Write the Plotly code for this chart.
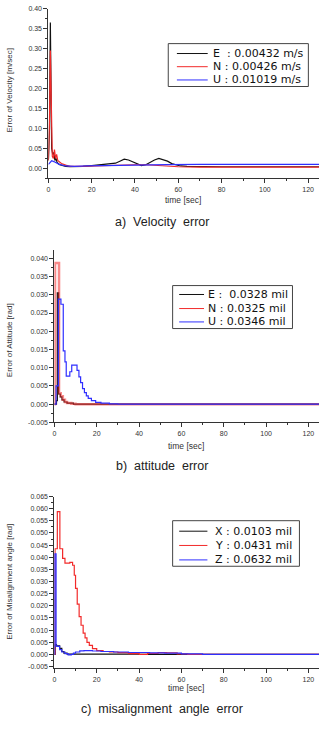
import plotly.graph_objects as go

# ---------------- data ----------------
# a) Velocity error
vel_t_E = [0, 0.5, 0.9, 1.2, 1.5, 2.0, 2.5, 3.0, 3.5, 4, 5, 6, 8, 10, 13, 16, 20, 23, 26, 29, 31, 33, 35, 37, 39, 41, 43, 45, 47, 49, 51, 53, 55, 57, 59, 61, 64, 70, 80, 100, 125]
vel_E = [0.02, 0.1, 0.366, 0.2, 0.05, 0.035, 0.04, 0.02, 0.025, 0.015, 0.01, 0.008, 0.005, 0.004, 0.004, 0.005, 0.007, 0.009, 0.011, 0.012, 0.013, 0.018, 0.023, 0.021, 0.016, 0.01, 0.007, 0.009, 0.016, 0.021, 0.025, 0.022, 0.018, 0.012, 0.008, 0.006, 0.005, 0.004, 0.004, 0.004, 0.004]
vel_t_N = [0, 0.5, 0.9, 1.3, 1.8, 2.3, 2.8, 3.3, 3.8, 4.3, 5, 6, 8, 10, 15, 20, 25, 30, 40, 45, 50, 55, 60, 70, 80, 100, 125]
vel_N = [0.02, 0.12, 0.296, 0.15, 0.03, 0.025, 0.047, 0.025, 0.035, 0.02, 0.016, 0.012, 0.008, 0.005, 0.005, 0.006, 0.007, 0.008, 0.009, 0.009, 0.007, 0.005, 0.004, 0.003, 0.003, 0.003, 0.003]
vel_t_U = [0, 0.8, 1.5, 2.5, 3.5, 5, 8, 12, 18, 25, 35, 45, 55, 70, 100, 125]
vel_U = [0.01, 0.015, 0.019, 0.017, 0.014, 0.01, 0.006, 0.005, 0.006, 0.007, 0.008, 0.009, 0.0095, 0.0098, 0.0098, 0.0098]

# b) attitude error
att_t_E = [0, 1.0, 1.4, 2.0, 2.8, 3.6, 4.6, 6.0, 9.0, 125]
att_E = [0, 0.001, 0.0305, 0.0028, 0.002, 0.0012, 0.0006, 0.0003, 0, 0]
att_t_N = [0, 0.3, 2.2, 3.0, 4.0, 5.0, 6.0, 8.0, 10.0, 125]
att_N = [0, 0.0387, 0.003, 0.0022, 0.0012, 0.0006, 0.0003, 0.0001, 0, 0]
att_t_U = [0, 0.8, 1.9, 3.1, 4.2, 5.0, 5.6, 7.3, 8.2, 10.7, 11.6, 12.4, 13.3, 14.2, 15.1, 16.0, 17.5, 19.5, 22, 26, 30, 125]
att_U = [0, 0.005, 0.0288, 0.0274, 0.0146, 0.0116, 0.0077, 0.0089, 0.0107, 0.0093, 0.0075, 0.0059, 0.0043, 0.0032, 0.0023, 0.0016, 0.001, 0.0005, 0.0003, 0.0001, 0, 0]

# c) misalignment angle error
mis_t_X = [0, 0.4, 1.0, 2.5, 3.5, 4.5, 6.0, 10, 20, 40, 125]
mis_X = [0, 0.004, 0.0035, 0.0025, 0.0012, 0.0005, 0.0001, 0.0001, 0.0001, 0.0, 0.0]
mis_t_Y = [0, 0.3, 1.4, 2.6, 3.9, 5.0, 7.3, 8.6, 9.4, 10.0, 10.8, 11.7, 12.6, 13.6, 14.5, 15.4, 16.5, 18, 20, 23, 26, 30, 35, 40, 44, 49, 53, 58, 63, 125]
mis_Y = [0, 0.0435, 0.0588, 0.0435, 0.0395, 0.0376, 0.0379, 0.0367, 0.0326, 0.0272, 0.0207, 0.0156, 0.012, 0.0088, 0.0068, 0.005, 0.0037, 0.0024, 0.0016, 0.0012, 0.001, 0.0007, 0.0003, 0.0, 0.0004, 0.0007, 0.0006, 0.0002, 0, 0]
mis_t_Z = [0, 0.15, 0.8, 1.5, 2.5, 3.5, 5, 6.5, 8, 9, 10, 12, 14, 18, 22, 28, 35, 45, 52, 60, 70, 125]
mis_Z = [0, 0.0414, 0.0034, 0.0033, 0.002, 0.001, 0.0003, -0.0002, 0.0, 0.0005, 0.001, 0.0015, 0.0016, 0.0014, 0.0012, 0.001, 0.0008, 0.0006, 0.0005, 0.0002, 0, 0]

legend_vel = ["E\u00a0\u00a0: 0.00432 m/s", "N : 0.00426 m/s", "U : 0.01019 m/s"]
legend_att = ["E :\u00a0\u00a00.0328 mil", "N : 0.0325 mil", "U : 0.0346 mil"]
legend_mis = ["X : 0.0103 mil", "Y : 0.0431 mil", "Z : 0.0632 mil"]

x_ticks = [0, 20, 40, 60, 80, 100, 120]
x_ticktext = ["0", "20", "40", "60", "80", "100", "120"]
vel_yticks = [0.0, 0.05, 0.10, 0.15, 0.20, 0.25, 0.30, 0.35, 0.40]
vel_yticktext = ["0.00", "0.05", "0.10", "0.15", "0.20", "0.25", "0.30", "0.35", "0.40"]
att_yticks = [-0.005, 0.0, 0.005, 0.010, 0.015, 0.020, 0.025, 0.030, 0.035, 0.040]
att_yticktext = ["-0.005", "0.000", "0.005", "0.010", "0.015", "0.020", "0.025", "0.030", "0.035", "0.040"]
mis_yticks = [-0.005, 0.0, 0.005, 0.010, 0.015, 0.020, 0.025, 0.030, 0.035, 0.040, 0.045, 0.050, 0.055, 0.060, 0.065]
mis_yticktext = ["-0.005", "0.000", "0.005", "0.010", "0.015", "0.020", "0.025", "0.030", "0.035", "0.040", "0.045", "0.050", "0.055", "0.060", "0.065"]

captions = ["a)\u00a0\u00a0Velocity\u00a0\u00a0error", "b)\u00a0\u00a0attitude\u00a0\u00a0error", "c)\u00a0\u00a0misalignment\u00a0\u00a0angle\u00a0\u00a0error"]
ytitles = ["Error of Velocity [m/sec]", "Error of Attitude [rad]", "Error of Misalignment angle [rad]"]
xtitle = "time [sec]"

# ---------------- figure ----------------
W, H = 320, 730
BLACK = "#111111"
RED = "#f22a2a"
BLUE = "#2f2fff"
COLORS = [BLACK, RED, BLUE]
FONT = "Liberation Sans"
AX = "#333333"

fig = go.Figure()

def add(x, y, name, color, xa, ya, width=1.0, shape="linear", opacity=1.0):
    fig.add_trace(go.Scatter(x=x, y=y, name=name, mode="lines",
                             line=dict(color=color, width=width, shape=shape),
                             opacity=opacity, xaxis=xa, yaxis=ya, showlegend=False))

# plot 1
add(vel_t_E, vel_E, legend_vel[0], BLACK, "x", "y", 1.2)
add(vel_t_N, vel_N, legend_vel[1], RED, "x", "y", 1.2)
add(vel_t_U, vel_U, legend_vel[2], BLUE, "x", "y", 1.2)
# plot 2
add(att_t_E, att_E, legend_att[0], BLACK, "x2", "y2", 1.2, "hv")
add(att_t_N, att_N, legend_att[1], RED, "x2", "y2", 2.5, "hv", 0.55)
add(att_t_U, att_U, legend_att[2], BLUE, "x2", "y2", 1.2, "hv")
# plot 3
add(mis_t_X, mis_X, legend_mis[0], BLACK, "x3", "y3", 1.2, "hv")
add(mis_t_Y, mis_Y, legend_mis[1], RED, "x3", "y3", 1.2, "hv")
add(mis_t_Z, mis_Z, legend_mis[2], BLUE, "x3", "y3", 1.2, "hv")

def px(v):
    return v / W

def py(v):
    return 1 - v / H

tickfont = dict(family=FONT, size=7, color="#333333")

def xaxis(dom, anchor):
    return dict(domain=dom, anchor=anchor, range=[0, 125], showline=True, linecolor=AX, linewidth=1,
                ticks="outside", ticklen=4, tickwidth=1, tickcolor=AX,
                tickvals=x_ticks, ticktext=x_ticktext, tickfont=tickfont,
                minor=dict(ticks="outside", ticklen=2, tickcolor=AX, dtick=10, tick0=0, showgrid=False),
                showgrid=False, zeroline=False, fixedrange=True)

def yaxis(dom, anchor, rng, tv, tt, mdt):
    return dict(domain=dom, anchor=anchor, range=rng, showline=True, linecolor=AX, linewidth=1,
                ticks="outside", ticklen=4, tickwidth=1, tickcolor=AX,
                tickvals=tv, ticktext=tt, tickfont=tickfont,
                minor=dict(ticks="outside", ticklen=2, tickcolor=AX, dtick=mdt, tick0=0, showgrid=False),
                showgrid=False, zeroline=False, fixedrange=True)

annotations = []
shapes = []

# legends drawn as boxes (paper coordinates in pixels)
legends = [
    # box x0, x1, y0, y1, line x0, x1, text x, row y's, labels
    (167.3, 308.3, 40, 83.3, 176, 207, 210, [50, 63.3, 76.7], legend_vel),
    (171.7, 292.3, 284.3, 327.7, 178.3, 203.3, 205, [293.3, 307.5, 321], legend_att),
    (171.7, 299.3, 521.7, 567.7, 178.3, 206.7, 212, [532.3, 546.7, 561.3], legend_mis),
]
for (bx0, bx1, by0, by1, lx0, lx1, tx, rows, labels) in legends:
    shapes.append(dict(type="rect", xref="paper", yref="paper", x0=px(bx0), x1=px(bx1), y0=py(by1), y1=py(by0),
                       line=dict(color="#444444", width=1), fillcolor="white", layer="above"))
    for ry, lab, col in zip(rows, labels, COLORS):
        shapes.append(dict(type="line", xref="paper", yref="paper", x0=px(lx0), x1=px(lx1), y0=py(ry), y1=py(ry),
                           line=dict(color=col, width=1), layer="above"))
        annotations.append(dict(x=px(tx), y=py(ry), xref="paper", yref="paper", text=lab, showarrow=False,
                                xanchor="left", yanchor="middle",
                                font=dict(family="DejaVu Sans", size=11, color="#111111")))

for (cx, cy, text) in [(161, 220, captions[0]), (161, 466, captions[1]), (161, 712, captions[2])]:
    annotations.append(dict(x=px(cx), y=py(cy), xref="paper", yref="paper", text=text, showarrow=False,
                            xanchor="center", yanchor="middle", font=dict(family=FONT, size=12.5, color="#222222")))
for (cx, cy) in [(182.5, 198), (185.5, 446), (185.5, 691)]:
    annotations.append(dict(x=px(cx), y=py(cy), xref="paper", yref="paper", text=xtitle, showarrow=False,
                            xanchor="center", yanchor="middle", font=dict(family=FONT, size=8.5, color="#333333")))
for (cx, cy, text) in [(7.5, 87, ytitles[0]), (7.5, 339, ytitles[1]), (7.5, 583, ytitles[2])]:
    annotations.append(dict(x=px(cx), y=py(cy), xref="paper", yref="paper", text=text, showarrow=False,
                            textangle=-90, xanchor="center", yanchor="middle",
                            font=dict(family=FONT, size=8, color="#333333")))

fig.update_layout(
    width=W, height=H, margin=dict(l=0, r=0, t=0, b=0),
    paper_bgcolor="white", plot_bgcolor="white",
    xaxis=xaxis([px(46.7), px(319)], "y"),
    yaxis=yaxis([py(176), py(5)], "x", [-0.025, 0.40], vel_yticks, vel_yticktext, 0.025),
    xaxis2=xaxis([px(52.7), px(319)], "y2"),
    yaxis2=yaxis([py(422.5), py(248.3)], "x2", [-0.005, 0.0423], att_yticks, att_yticktext, 0.0025),
    xaxis3=xaxis([px(52.7), px(319)], "y3"),
    yaxis3=yaxis([py(670.7), py(497.3)], "x3", [-0.0057, 0.065], mis_yticks, mis_yticktext, 0.0025),
    annotations=annotations,
    shapes=shapes,
    showlegend=False,
)

fig.write_html("out.html")
